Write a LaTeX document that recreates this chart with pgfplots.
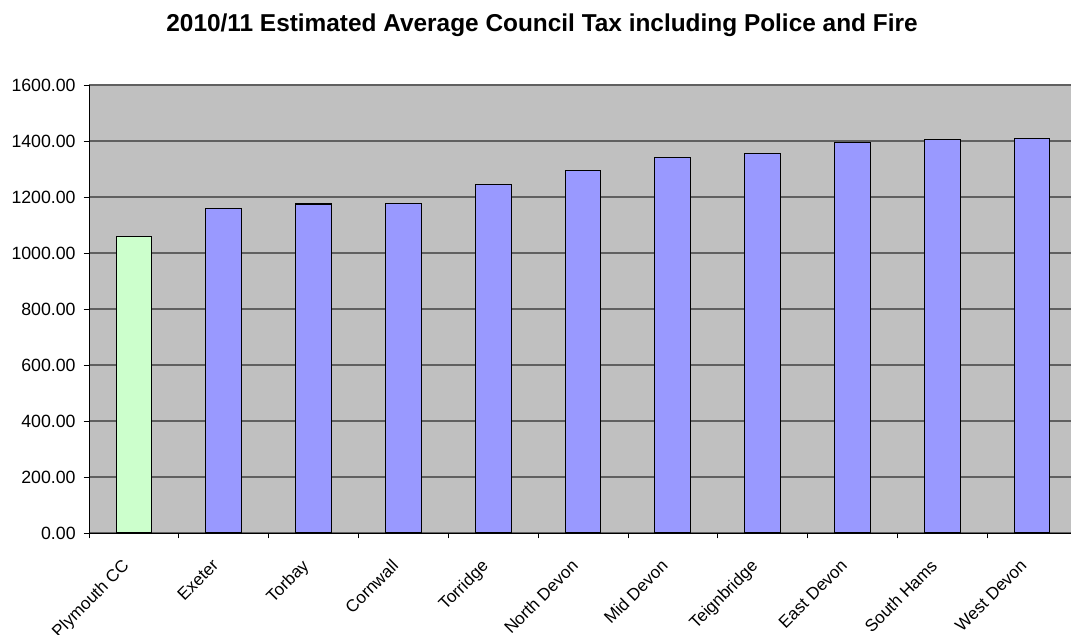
\documentclass[border=0pt]{standalone}
\usepackage{pgfplots}
\pgfplotsset{compat=1.18}
\usepackage{fontspec}
\setmainfont{Liberation Sans}
\definecolor{plotbg}{HTML}{C0C0C0}
\definecolor{barblue}{HTML}{9999FF}
\definecolor{bargreen}{HTML}{CCFFCC}
\definecolor{gridgray}{HTML}{606060}

\begin{document}
\begin{tikzpicture}[x=0.75pt,y=0.75pt]
% page = 1071 x 635 px, axis lower left corner at pixel (89,533)
\useasboundingbox (-89,-102) rectangle (982,533);
\node[font=\bfseries\fontsize{18.3}{20}\selectfont] at (453,507.6) {2010/11 Estimated Average Council Tax including Police and Fire};
\begin{axis}[
    at={(0,0)}, anchor=south west,
    scale only axis,
    width=741pt, height=336pt,
    xmin=-0.5, xmax=10.5,
    ymin=0, ymax=1600,
    axis background/.style={fill=plotbg},
    axis line style={black},
    axis x line*=bottom, axis y line*=left,
    ymajorgrids, grid style={gridgray, line width=0.8pt},
    ytick={0,200,...,1600},
    yticklabel style={xshift=-2.5pt, font=\fontsize{13.3}{15}\selectfont,
        /pgf/number format/.cd, fixed, fixed zerofill, precision=2, 1000 sep={}},
    xtick={0,...,10},
    xticklabels={Plymouth CC, Exeter, Torbay, Cornwall, Torridge, North Devon, Mid Devon, Teignbridge, East Devon, South Hams, West Devon},
    minor xtick={-0.5,0.5,...,10.5},
    major x tick style={draw=none},
    minor tick length=4pt, major tick length=4pt,
    tick align=outside, tick style={black, line width=0.6pt},
    xticklabel style={rotate=45, anchor=north east, xshift=-13.9pt, yshift=-0.4pt,
        font=\fontsize{12.8}{14}\selectfont},
    /pgf/number format/assume math mode=true,
    ybar, bar width=26.8pt,
    clip=false,
]
\addplot+[ybar, bar shift=0pt, fill=bargreen, draw=black, line width=0.8pt] coordinates {(0,1058)};
\addplot+[ybar, bar shift=0pt, fill=barblue, draw=black, line width=0.8pt] coordinates {
    (1,1160) (2,1175) (3,1176) (4,1244) (5,1293) (6,1340) (7,1356) (8,1395) (9,1405) (10,1409)};
\end{axis}
\end{tikzpicture}
\end{document}
